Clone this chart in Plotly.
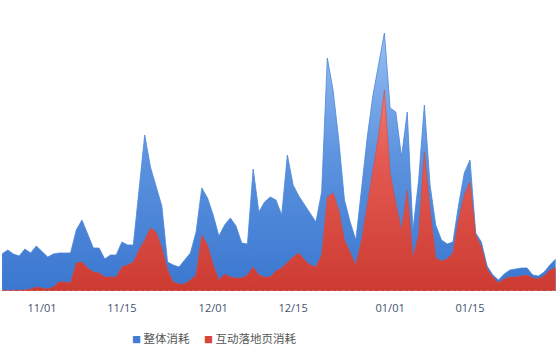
import pandas as pd
import plotly.graph_objects as go

# daily dates
dates = pd.date_range("2016-10-25", "2017-01-30", freq="D")

# 整体消耗 (overall spend)
total = [37, 41, 37, 35, 42, 38, 45, 39, 34, 37,
         38, 38, 38, 61, 71, 57, 43, 43, 32, 36,
         36, 49, 46, 46, 101, 156, 124, 105, 85, 29,
         26, 24, 31, 38, 59, 103, 93, 76, 55, 66,
         73, 65, 48, 47, 122, 79, 89, 94, 91, 76,
         136, 106, 95, 86, 77, 69, 99, 233, 201, 151,
         91, 69, 51, 106, 154, 196, 229, 258, 183, 179,
         134, 179, 61, 111, 186, 106, 66, 51, 47, 49,
         86, 118, 131, 58, 49, 25, 16, 11, 17, 21,
         22, 23, 23, 16, 15, 19, 26, 32]

# 互动落地页消耗 (interactive landing page spend)
landing = [0.5, 0.5, 0.5, 0.5, 1, 2, 4, 3, 2, 4,
           9, 9, 8, 28, 29, 23, 19, 18, 14, 14,
           14, 24, 26, 29, 41, 51, 63, 59, 43, 21,
           9, 7, 7, 11, 16, 56, 46, 26, 11, 17,
           14, 13, 13, 16, 24, 16, 14, 14, 20, 23,
           29, 34, 38, 31, 26, 24, 36, 94, 98, 81,
           51, 39, 26, 51, 86, 121, 156, 201, 118, 88,
           61, 101, 33, 56, 139, 81, 33, 30, 32, 38,
           71, 96, 109, 56, 44, 22, 14, 8, 12, 14,
           14, 15, 16, 13, 12, 15, 21, 23]

tick_dates = ["2016-11-01", "2016-11-15", "2016-12-01", "2016-12-15", "2017-01-01", "2017-01-15"]
tick_labels = ["11/01", "11/15", "12/01", "12/15", "01/01", "01/15"]
series_names = ["整体消耗", "互动落地页消耗"]
series_colors = ["#3f7dd6", "#d9453c"]

fig = go.Figure()
fig.add_trace(go.Scatter(
    x=dates, y=total, mode="lines", line=dict(width=0.8, color="#4a86d8"),
    fill="tozeroy", name=series_names[0],
    fillgradient=dict(type="vertical", start=0, stop=270,
                      colorscale=[[0, "#3a77d0"], [0.5, "#5d93df"], [1, "#9cc2f5"]]),
    showlegend=False, hoverinfo="skip"))
fig.add_trace(go.Scatter(
    x=dates, y=landing, mode="lines", line=dict(width=0.6, color="#d9463c"),
    fill="tozeroy", name=series_names[1],
    fillgradient=dict(type="vertical", start=0, stop=270,
                      colorscale=[[0, "#cc3b32"], [0.5, "#e45b53"], [1, "#fb9a94"]]),
    showlegend=False, hoverinfo="skip"))

# legend (as text items with square glyphs)
legend_x = [130 / 560, 202 / 560]
for name, color, lx in zip(series_names, series_colors, legend_x):
    fig.add_annotation(
        xref="paper", yref="paper", x=lx, y=-0.1615, xanchor="left", yanchor="middle",
        showarrow=False,
        text=f"<span style='color:{color};font-size:9px'>■</span> {name}",
        font=dict(family="Noto Sans CJK SC", size=11.5, color="#555555"))

fig.add_shape(type="line", xref="paper", x0=0, x1=1, yref="y", y0=-0.5, y1=-0.5,
              line=dict(color="#c9d2e2", width=1.5, dash="dot"))

fig.update_layout(
    width=560, height=350,
    margin=dict(l=0, r=0, t=0, b=59, autoexpand=False),
    paper_bgcolor="white", plot_bgcolor="white",
    showlegend=False,
    xaxis=dict(range=["2016-10-24 15:20", "2017-01-30 18:30"],
               tickvals=tick_dates, ticktext=tick_labels, automargin=False,
               showgrid=False, zeroline=False, showline=False, ticks="",
               ticklabelstandoff=9,
               tickfont=dict(family="Open Sans, Noto Sans", size=11, color="#43516e")),
    yaxis=dict(range=[0, 291], visible=False),
    font=dict(family="Noto Sans CJK SC"),
)

fig.write_html("out.html")
